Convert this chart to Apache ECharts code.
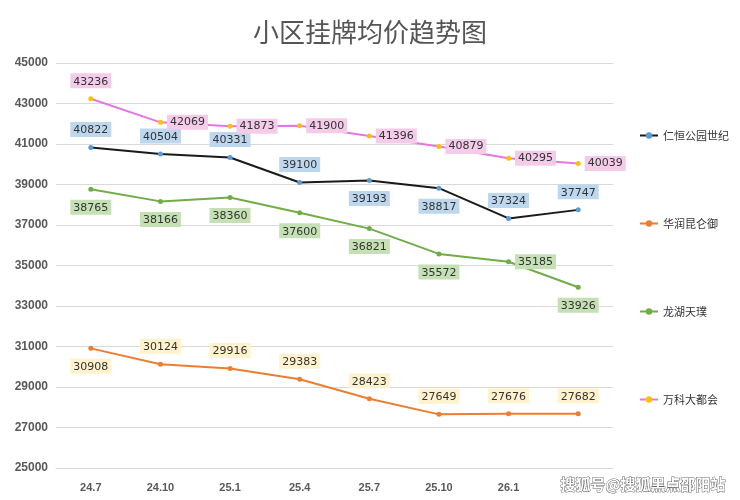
<!DOCTYPE html>
<html><head><meta charset="utf-8">
<script src="https://cdn.jsdelivr.net/npm/echarts@6/dist/echarts.min.js"></script>
<style>html,body{margin:0;padding:0;background:#fff}#c{width:740px;height:500px}</style>
</head><body><div id="c"></div>
<script>
// 数据
const categories = ['24.7','24.10','25.1','25.4','25.7','25.10','26.1',''];
const renheng = [40822,40504,40331,39100,39193,38817,37324,37747];
const huarun  = [30908,30124,29916,29383,28423,27649,27676,27682];
const longhu  = [38765,38166,38360,37600,36821,35572,35185,33926];
const wanke   = [43236,42069,41873,41900,41396,40879,40295,40039];
const yTicks  = [25000,27000,29000,31000,33000,35000,37000,39000,41000,43000,45000];

const renhengPos = ['top','top','top','top','bottom','bottom','top','top'];
const huarunPos  = ['bottom','top','top','top','top','top','top','top'];
const longhuPos  = ['bottom','bottom','bottom','bottom','bottom','bottom','right','bottom'];
const wankePos   = ['top','right','right','right','right','right','right','right'];

function mk(vals, pos, bg) {
  return vals.map((v, i) => ({
    value: v,
    label: {position: pos[i], backgroundColor: bg, distance: pos[i] === 'right' ? 4 : 8}
  }));
}

function series(name, vals, pos, lineColor, dotColor, bg) {
  return {
    name: name, type: 'line', data: mk(vals, pos, bg),
    symbol: 'circle', symbolSize: 5,
    lineStyle: {color: lineColor, width: 2},
    itemStyle: {color: dotColor},
    label: {show: true, color: '#333', fontSize: 11, padding: [3, 3, 1, 3], fontFamily: 'DejaVu Sans'}
  };
}

const chart = echarts.init(document.getElementById('c'));
chart.setOption({
  animation: false,
  title: {text: '小区挂牌均价趋势图', left: 'center', top: 14,
    textStyle: {fontSize: 26, fontWeight: 'normal', color: '#555', fontFamily: 'Noto Sans CJK SC'}},
  grid: {left: 56, right: 127, top: 63, bottom: 32},
  legend: {
    orient: 'vertical', right: 6, top: 125, itemGap: 77, itemWidth: 18, itemHeight: 8,
    textStyle: {fontSize: 11, color: '#333', fontFamily: 'Noto Sans CJK SC'}
  },
  xAxis: {
    type: 'category', data: categories, boundaryGap: true,
    axisLine: {lineStyle: {color: '#d9d9d9'}}, axisTick: {show: false},
    axisLabel: {color: '#595959', fontSize: 11, fontWeight: 'bold', margin: 14}
  },
  yAxis: {
    type: 'value', min: yTicks[0], max: yTicks[yTicks.length - 1], interval: 2000,
    axisLabel: {color: '#595959', fontSize: 12, fontWeight: 'bold', formatter: v => String(v)},
    splitLine: {lineStyle: {color: '#d9d9d9'}}
  },
  series: [
    series('仁恒公园世纪', renheng, renhengPos, '#1a1a1a', '#5b9bd5', '#bdd7ee'),
    series('华润昆仑御', huarun, huarunPos, '#ed7d31', '#ed7d31', '#fff2cc'),
    series('龙湖天璞', longhu, longhuPos, '#70ad47', '#70ad47', '#c5e0b4'),
    series('万科大都会', wanke, wankePos, '#e377e3', '#ffc000', '#f4cbe9')
  ],
  graphic: [{
    type: 'text', right: 14, bottom: 8,
    style: {text: '搜狐号@搜狐黑点邵阳站', fill: '#fff',
      font: 'bold 15px "Noto Sans CJK SC"', stroke: '#666', lineWidth: 1}
  }]
});
</script></body></html>
